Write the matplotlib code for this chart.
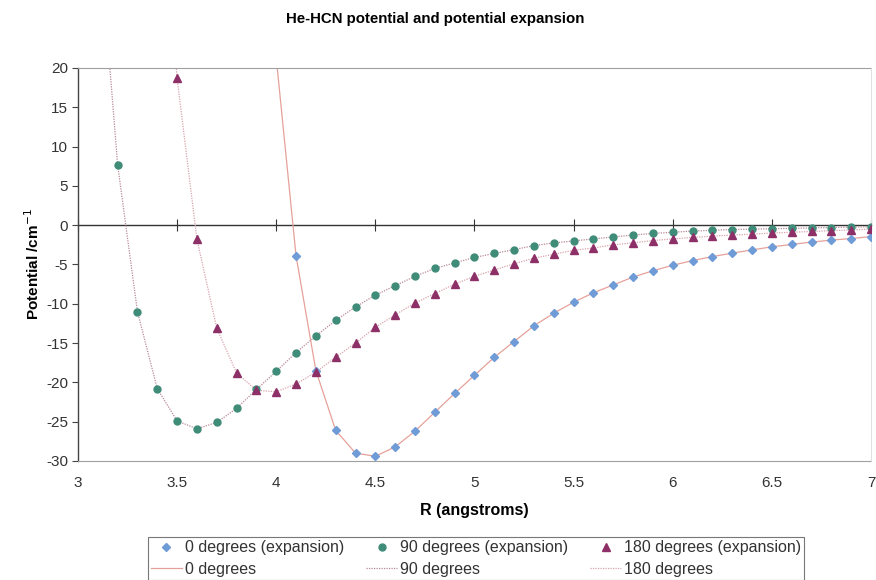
import matplotlib as mpl

mpl.use("Agg")
import matplotlib.pyplot as plt
from matplotlib.ticker import MultipleLocator

plt.rcParams["font.family"] = ["Liberation Sans", "DejaVu Sans"]
plt.rcParams["axes.unicode_minus"] = False

# Values (R in angstroms, potential in cm^-1)
r90 = [3.2, 3.3, 3.4, 3.5, 3.6, 3.7, 3.8, 3.9, 4.0, 4.1, 4.2, 4.3, 4.4, 4.5,
       4.6, 4.7, 4.8, 4.9, 5.0, 5.1, 5.2, 5.3, 5.4, 5.5, 5.6, 5.7, 5.8, 5.9,
       6.0, 6.1, 6.2, 6.3, 6.4, 6.5, 6.6, 6.7, 6.8, 6.9, 7.0]
v90 = [7.7, -11.0, -20.8, -24.9, -25.9, -25.1, -23.3, -20.9, -18.6, -16.2,
       -14.1, -12.1, -10.4, -8.9, -7.7, -6.5, -5.5, -4.8, -4.1, -3.6, -3.1,
       -2.6, -2.25, -2.0, -1.75, -1.5, -1.25, -1.05, -0.9, -0.75, -0.65,
       -0.55, -0.5, -0.45, -0.4, -0.35, -0.3, -0.25, -0.2]

r180 = [3.5, 3.6, 3.7, 3.8, 3.9, 4.0, 4.1, 4.2, 4.3, 4.4, 4.5, 4.6, 4.7, 4.8,
        4.9, 5.0, 5.1, 5.2, 5.3, 5.4, 5.5, 5.6, 5.7, 5.8, 5.9, 6.0, 6.1, 6.2,
        6.3, 6.4, 6.5, 6.6, 6.7, 6.8, 6.9, 7.0]
v180 = [18.7, -1.8, -13.1, -18.8, -21.0, -21.2, -20.2, -18.7, -16.8, -15.0,
        -13.0, -11.4, -9.9, -8.7, -7.5, -6.5, -5.7, -4.9, -4.2, -3.7, -3.2,
        -2.9, -2.5, -2.25, -1.95, -1.75, -1.55, -1.4, -1.25, -1.15, -1.0,
        -0.9, -0.8, -0.7, -0.6, -0.5]

r0 = [4.1, 4.2, 4.3, 4.4, 4.5, 4.6, 4.7, 4.8, 4.9, 5.0, 5.1, 5.2, 5.3, 5.4,
      5.5, 5.6, 5.7, 5.8, 5.9, 6.0, 6.1, 6.2, 6.3, 6.4, 6.5, 6.6, 6.7, 6.8,
      6.9, 7.0]
v0 = [-3.9, -18.5, -26.1, -29.0, -29.4, -28.2, -26.2, -23.8, -21.4, -19.1,
      -16.8, -14.8, -12.8, -11.2, -9.8, -8.6, -7.6, -6.6, -5.8, -5.1, -4.5,
      -4.0, -3.55, -3.15, -2.75, -2.45, -2.15, -1.9, -1.7, -1.45]

# the full potential curves also have a point on the repulsive wall above 20
wall_r = {"0": 4.0, "90": 3.1, "180": 3.4}
wall_v = {"0": 21.3, "90": 39.2, "180": 51.0}

fig = plt.figure(figsize=(8.76, 5.80), dpi=100)
ax = fig.add_axes([0.089, 0.2052, 0.9053, 0.6776])

# --- expansion points ---
h_d0, = ax.plot(r0, v0, ls="none", marker="D", ms=4.3, color="#6f9bd6",
                label="0 degrees (expansion)", zorder=3)
h_d90, = ax.plot(r90, v90, ls="none", marker="o", ms=5, color="#3f8c78",
                 label="90 degrees (expansion)", zorder=3)
h_d180, = ax.plot(r180, v180, ls="none", marker="^", ms=6, color="#8e3068",
                  label="180 degrees (expansion)", zorder=4)

# --- potential curves ---
h_l0, = ax.plot([wall_r["0"]] + r0, [wall_v["0"]] + v0, color="#e6a19a",
                lw=0.9, label="0 degrees", zorder=2)
h_l90, = ax.plot([wall_r["90"]] + r90, [wall_v["90"]] + v90, color="#b88a98",
                 lw=0.9, ls=(0, (1, 1)), label="90 degrees", zorder=2)
h_l180, = ax.plot([wall_r["180"]] + r180, [wall_v["180"]] + v180,
                  color="#d9a3ad", lw=0.9, ls=(0, (1, 1)),
                  label="180 degrees", zorder=2)

ax.set_xlim(3, 7)
ax.set_ylim(-30, 20)
ax.xaxis.set_major_locator(MultipleLocator(0.5))
ax.yaxis.set_major_locator(MultipleLocator(5))
ax.xaxis.set_major_formatter(mpl.ticker.FuncFormatter(lambda v, p: f"{v:g}"))

ax.spines["left"].set_color("#444444")
ax.spines["left"].set_linewidth(1.0)
for side in ("top", "bottom"):
    ax.spines[side].set_color("#a0a0a0")
    ax.spines[side].set_linestyle((0, (1, 1)))
    ax.spines[side].set_linewidth(0.8)
ax.spines["right"].set_color("#e0e0e0")
ax.spines["right"].set_linewidth(0.8)

ax.tick_params(axis="y", direction="out", length=4, color="#444444",
               labelsize=11, labelcolor="#333333", pad=3)
ax.tick_params(axis="x", length=0, labelsize=11, labelcolor="#333333", pad=11)

# x axis crossing at zero with ticks
zero_axis = ax.secondary_xaxis(30 / 50)
zero_axis.xaxis.set_major_locator(MultipleLocator(0.5))
zero_axis.tick_params(direction="inout", length=8, color="#333333",
                      labelbottom=False, labeltop=False)
zero_axis.spines["top"].set_color("#333333")
zero_axis.spines["bottom"].set_color("#333333")
zero_axis.spines["top"].set_linewidth(1.0)
zero_axis.spines["bottom"].set_linewidth(1.0)

ax.set_xlabel("R (angstroms)", fontsize=11.5, fontweight="bold", labelpad=9)
ax.set_ylabel("Potential /cm$^{-1}$", fontsize=11, fontweight="bold",
              labelpad=3)
fig.text(0.497, 0.967, "He-HCN potential and potential expansion",
         ha="center", va="center", fontsize=10.8, fontweight="bold")

handles = [h_d0, h_l0, h_d90, h_l90, h_d180, h_l180]
leg = fig.legend(handles=handles, loc="upper left", ncol=3,
                 bbox_to_anchor=(148 / 876, 1 - 537 / 580), fontsize=11.5,
                 frameon=True, fancybox=False, edgecolor="#555555",
                 handlelength=1.9, columnspacing=1.4, handletextpad=0.2,
                 labelspacing=0.42, borderpad=0.2, borderaxespad=0)
leg.get_frame().set_linewidth(0.8)
for t in leg.get_texts():
    t.set_color("#333333")

fig.savefig("out.png", dpi=100)
